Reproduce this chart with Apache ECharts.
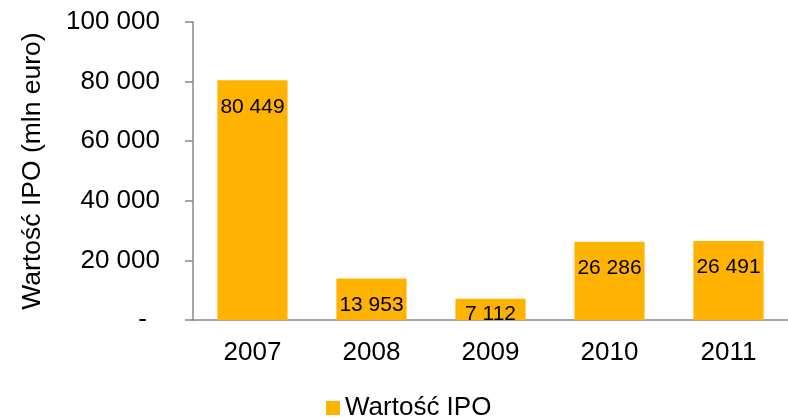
<!DOCTYPE html>
<html>
<head>
<meta charset="utf-8">
<script src="https://cdn.jsdelivr.net/npm/echarts@6/dist/echarts.min.js"></script>
<style>
  html, body { margin: 0; padding: 0; background: #fff; }
  #chart { width: 788px; height: 418px; }
</style>
</head>
<body>
<div id="chart"></div>
<script>
// IPO values by year (mln euro)
const years = ["2007", "2008", "2009", "2010", "2011"];
const ipoValues = [80449, 13953, 7112, 26286, 26491];
const seriesName = "Wartość IPO";
const yAxisTitle = "Wartość IPO (mln euro)";

const fmt = (v) => String(v).replace(/\B(?=(\d{3})+(?!\d))/g, " ");

const chart = echarts.init(document.getElementById("chart"));

const option = {
    animation: false,
    textStyle: { fontFamily: "Liberation Sans, Arial, sans-serif" },
    grid: {
        left: 193,
        right: -9,
        top: 22,
        bottom: 98,
    },
    legend: {
        data: [seriesName],
        left: 326,
        top: 395,
        padding: 0,
        icon: "rect",
        itemWidth: 14,
        itemHeight: 14,
        itemGap: 6,
        textStyle: { color: "#000", fontSize: 26 },
    },
    xAxis: {
        type: "category",
        data: years,
        axisLine: { lineStyle: { color: "#888", width: 1.5 } },
        axisTick: { length: 9, lineStyle: { color: "#888", width: 1.5 } },
        axisLabel: { color: "#000", fontSize: 26, margin: 20 },
    },
    yAxis: {
        type: "value",
        min: 0,
        max: 100000,
        interval: 20000,
        name: yAxisTitle,
        nameLocation: "middle",
        nameGap: 147,
        nameTextStyle: { color: "#000", fontSize: 26.5 },
        axisLine: { show: true, lineStyle: { color: "#888", width: 1.5 } },
        axisTick: { show: true, length: 8, lineStyle: { color: "#888", width: 1.5 } },
        splitLine: { show: false },
        axisLabel: {
            color: "#000",
            fontSize: 26,
            margin: 33,
            formatter: (v) => (v === 0 ? "-\u2002" : fmt(v)),
        },
    },
    series: [
        {
            name: seriesName,
            type: "bar",
            barCategoryGap: "41%",
            itemStyle: { color: "#FFB300" },
            label: {
                show: true,
                position: "insideTop",
                distance: 16,
                color: "#000",
                fontSize: 21,
                formatter: (p) => fmt(p.value),
            },
            data: ipoValues.map((v) =>
                v < 10000 ? { value: v, label: { distance: 5 } } : v
            ),
        },
    ],
};

chart.setOption(option);
</script>
</body>
</html>
